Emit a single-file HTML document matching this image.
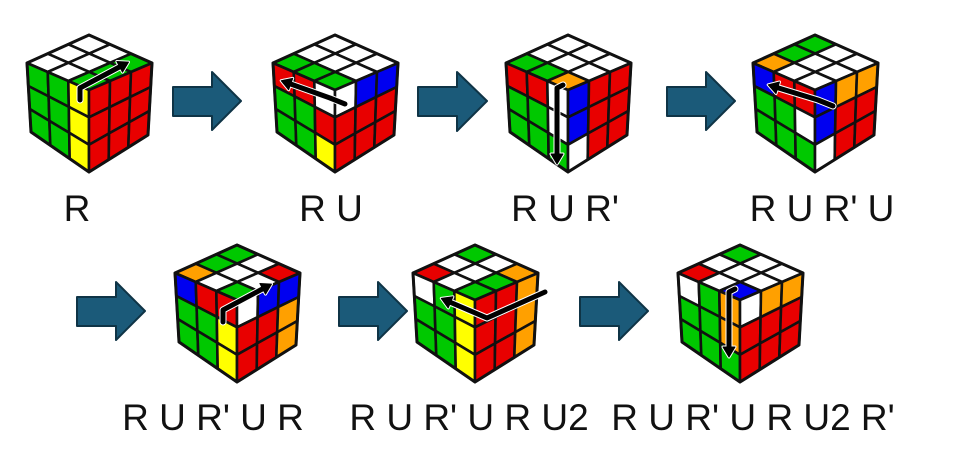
<!DOCTYPE html>
<html><head><meta charset="utf-8">
<style>
html,body{margin:0;padding:0;background:#fff;}
svg{display:block;}
text{font-family:"Liberation Sans",sans-serif;font-size:37px;fill:#111;}
</style></head>
<body>
<svg id="s" width="956" height="451" viewBox="0 0 956 451" xmlns="http://www.w3.org/2000/svg">
<g id="cubes"></g>
<g fill="#1b5a79" stroke="#0f3446" stroke-width="2" stroke-linejoin="round">
<polygon points="173,87 212,87 212,72 241,101 212,130 212,116 173,116"/>
<polygon points="418,87 457,87 457,72 487,101 457,131 457,116 418,116"/>
<polygon points="667,87 706,87 706,72 735,101 706,130 706,116 667,116"/>
<polygon points="77,297 116,297 116,282 145,311 116,340 116,326 77,326"/>
<polygon points="339,297 378,297 378,282 407,311 378,340 378,326 339,326"/>
<polygon points="580,297 619,297 619,282 648,311 619,340 619,326 580,326"/>
</g>
<g id="arr" fill="none" stroke-linejoin="round" stroke-linecap="round"></g>
<g text-anchor="middle">
<text x="77" y="221">R</text>
<text x="331" y="221">R U</text>
<text x="565" y="221">R U R'</text>
<text x="822" y="221">R U R' U</text>
<text x="213" y="430">R U R' U R</text>
<text x="469" y="430">R U R' U R U2</text>
<text x="753" y="430">R U R' U R U2 R'</text>
</g>
</svg>
<script>
var C={W:"#ffffff",G:"#00c800",R:"#e80000",Y:"#ffff00",B:"#0000f0",O:"#ffa000"};
var T=[0,-55],L=[-62,-27],Rr=[63,-27],F=[0,0],LB=[-58,42],B=[0,82],RB=[59,45];
function bil(p00,p10,p01,p11,u,v){return [p00[0]*(1-u)*(1-v)+p10[0]*u*(1-v)+p01[0]*(1-u)*v+p11[0]*u*v,
 p00[1]*(1-u)*(1-v)+p10[1]*u*(1-v)+p01[1]*(1-u)*v+p11[1]*u*v];}
var out="";
function face(cx,cy,p00,p10,p01,p11,cols){
 for(var r=0;r<3;r++)for(var c=0;c<3;c++){
  var pts=[[c,r],[c+1,r],[c+1,r+1],[c,r+1]].map(function(q){var p=bil(p00,p10,p01,p11,q[0]/3,q[1]/3);return (p[0]+cx).toFixed(1)+","+(p[1]+cy).toFixed(1);});
  out+='<polygon points="'+pts.join(" ")+'" fill="'+C[cols[r][c]]+'" stroke="#111" stroke-width="2.6" stroke-linejoin="round"/>';
 }}
function cube(cx,cy,top,left,right){
 face(cx,cy,T,Rr,L,F,top);
 face(cx,cy,L,F,LB,B,left);
 face(cx,cy,F,Rr,B,RB,right);
 var o=[T,Rr,RB,B,LB,L].map(function(p){return (p[0]+cx)+","+(p[1]+cy);}).join(" ");
 out+='<polygon points="'+o+'" fill="none" stroke="#111" stroke-width="3" stroke-linejoin="round"/>';
}
function t(a){return a.map(function(s){return s.split("");});}
cube(89,90,t(["WWG","WWG","WWG"]),t(["GGY","GGY","GGY"]),t(["RRR","RRR","RRR"]));
cube(335,90,t(["WWW","WWW","GGG"]),t(["RRW","GGR","GGY"]),t(["WBB","RRR","RRR"]));
cube(568,90,t(["WWW","WWW","GGO"]),t(["RRW","GGW","GGG"]),t(["BRR","BRR","WRR"]));
cube(815,90,t(["GWW","GWW","OWW"]),t(["BRR","GGW","GGG"]),t(["BOO","BRR","WRR"]));
cube(237,300,t(["GWR","GWW","OWG"]),t(["BRR","GGY","GGY"]),t(["WBB","RRO","RRO"]));
cube(475,300,t(["GWO","WWG","RWG"]),t(["WGY","GGY","GGY"]),t(["RRO","RRO","RRO"]));
cube(740,300,t(["GWW","WWW","RWB"]),t(["WGO","GGO","GGG"]),t(["WOO","RRR","RRR"]));
document.getElementById("cubes").innerHTML=out;
var arrows=[
 [[80,100],[80,88],[125,64]],
 [[345,104],[330,98],[285,82]],
 [[557,160],[557,88],[563,85]],
 [[833,106],[818,100],[772,86]],
 [[223,322],[223,310],[268,286]],
 [[545,292],[487,318],[445,300]],
 [[729,353],[729,292],[735,289]]];
var a="";
arrows.forEach(function(p){
 var s=p.map(function(q){return q.join(",");}).join(" ");
 var e=p[p.length-1],f=p[p.length-2];
 if(p===arrows[2]||p===arrows[6]){e=p[0];f=p[1];}
 var dx=e[0]-f[0],dy=e[1]-f[1],l=Math.sqrt(dx*dx+dy*dy);dx/=l;dy/=l;
 var h=[e[0]+dx*4,e[1]+dy*4],b1=[e[0]-dx*6-dy*6,e[1]-dy*6+dx*6],b2=[e[0]-dx*6+dy*6,e[1]-dy*6-dx*6];
 var hp=[h,b1,b2].map(function(q){return q[0].toFixed(1)+","+q[1].toFixed(1);}).join(" ");
 a+='<polyline points="'+s+'" stroke="#fff" stroke-width="7"/><polygon points="'+hp+'" fill="#fff" stroke="#fff" stroke-width="3"/>';
 a+='<polyline points="'+s+'" stroke="#000" stroke-width="5"/><polygon points="'+hp+'" fill="#000" stroke="#000" stroke-width="1"/>';
});
document.getElementById("arr").innerHTML=a;
</script>
</body></html>
